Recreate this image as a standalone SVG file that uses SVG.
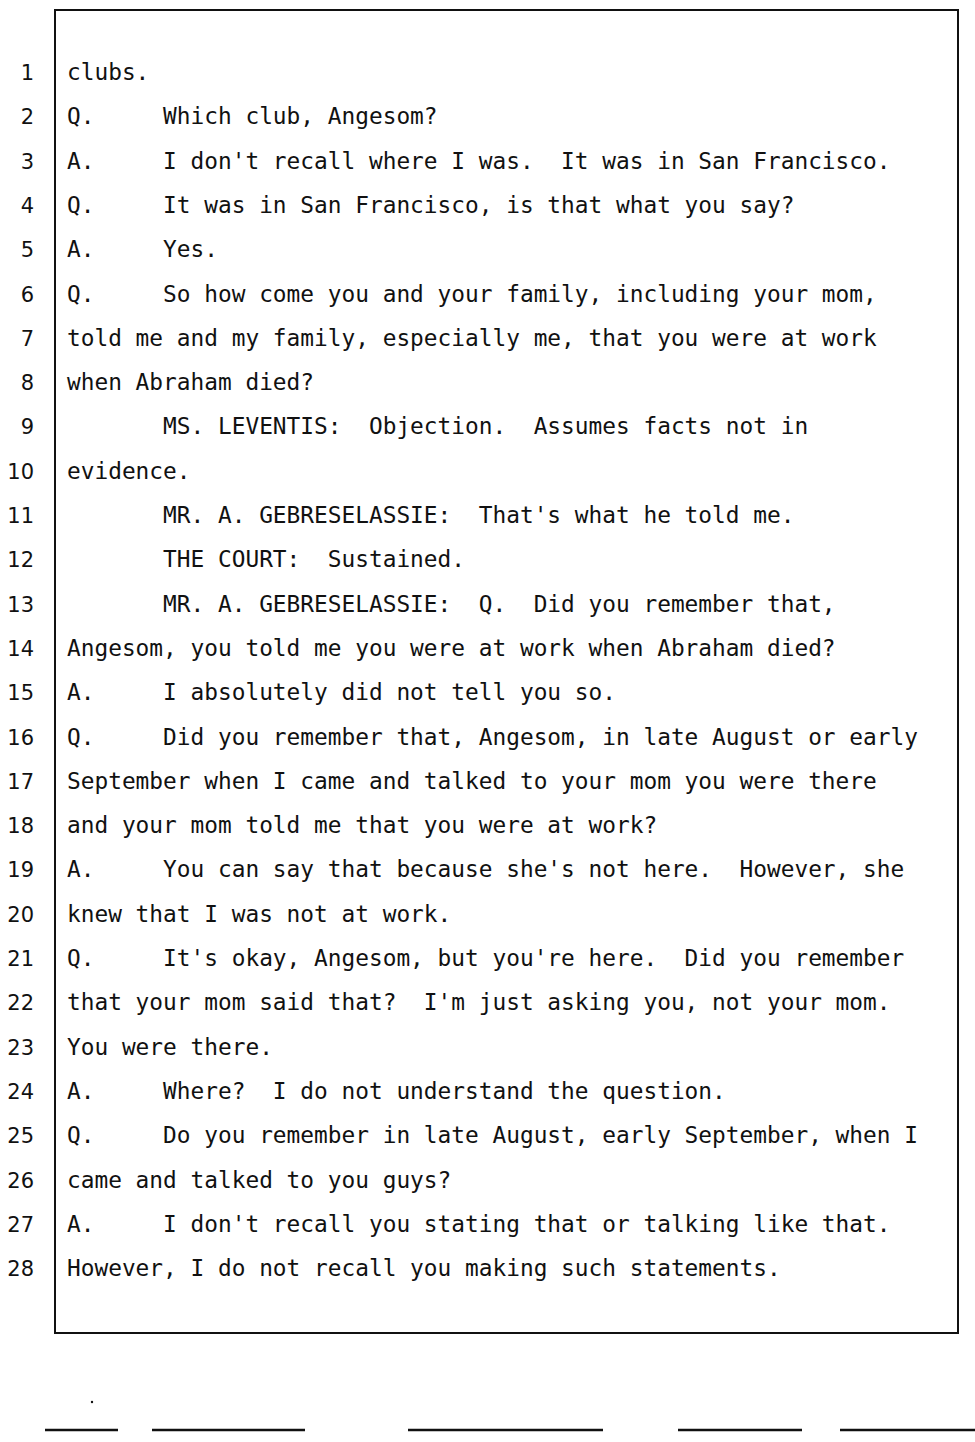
<svg xmlns="http://www.w3.org/2000/svg" width="975" height="1442" viewBox="0 0 975 1442">
<style>
.t{font-family:"DejaVu Sans Mono","Liberation Mono",monospace;font-size:22.8px;fill:#111;white-space:pre}
.n{font-family:"DejaVu Sans","Liberation Sans",sans-serif;font-size:21px;fill:#111;text-anchor:end}
.b{fill:none;stroke:#111;stroke-width:2}
.r{stroke:#111;stroke-width:2.5}
</style>
<rect width="975" height="1442" fill="#fff"/>
<g id="frame">
<rect class="b" x="55" y="10" width="903" height="1323"/>
</g>
<g id="line-numbers">
<text class="n" x="34" y="80">1</text>
<text class="n" x="34" y="124.3">2</text>
<text class="n" x="34" y="168.6">3</text>
<text class="n" x="34" y="212.9">4</text>
<text class="n" x="34" y="257.2">5</text>
<text class="n" x="34" y="301.5">6</text>
<text class="n" x="34" y="345.8">7</text>
<text class="n" x="34" y="390.1">8</text>
<text class="n" x="34" y="434.4">9</text>
<text class="n" x="34" y="478.7">10</text>
<text class="n" x="34" y="523">11</text>
<text class="n" x="34" y="567.3">12</text>
<text class="n" x="34" y="611.6">13</text>
<text class="n" x="34" y="655.9">14</text>
<text class="n" x="34" y="700.2">15</text>
<text class="n" x="34" y="744.5">16</text>
<text class="n" x="34" y="788.8">17</text>
<text class="n" x="34" y="833.1">18</text>
<text class="n" x="34" y="877.4">19</text>
<text class="n" x="34" y="921.7">20</text>
<text class="n" x="34" y="966">21</text>
<text class="n" x="34" y="1010.3">22</text>
<text class="n" x="34" y="1054.6">23</text>
<text class="n" x="34" y="1098.9">24</text>
<text class="n" x="34" y="1143.2">25</text>
<text class="n" x="34" y="1187.5">26</text>
<text class="n" x="34" y="1231.8">27</text>
<text class="n" x="34" y="1276.1">28</text>
</g>
<g id="transcript">
<text class="t" x="67" y="80" xml:space="preserve">clubs.</text>
<text class="t" x="67" y="124.3" xml:space="preserve">Q.     Which club, Angesom?</text>
<text class="t" x="67" y="168.6" xml:space="preserve">A.     I don't recall where I was.  It was in San Francisco.</text>
<text class="t" x="67" y="212.9" xml:space="preserve">Q.     It was in San Francisco, is that what you say?</text>
<text class="t" x="67" y="257.2" xml:space="preserve">A.     Yes.</text>
<text class="t" x="67" y="301.5" xml:space="preserve">Q.     So how come you and your family, including your mom,</text>
<text class="t" x="67" y="345.8" xml:space="preserve">told me and my family, especially me, that you were at work</text>
<text class="t" x="67" y="390.1" xml:space="preserve">when Abraham died?</text>
<text class="t" x="67" y="434.4" xml:space="preserve">       MS. LEVENTIS:  Objection.  Assumes facts not in</text>
<text class="t" x="67" y="478.7" xml:space="preserve">evidence.</text>
<text class="t" x="67" y="523" xml:space="preserve">       MR. A. GEBRESELASSIE:  That's what he told me.</text>
<text class="t" x="67" y="567.3" xml:space="preserve">       THE COURT:  Sustained.</text>
<text class="t" x="67" y="611.6" xml:space="preserve">       MR. A. GEBRESELASSIE:  Q.  Did you remember that,</text>
<text class="t" x="67" y="655.9" xml:space="preserve">Angesom, you told me you were at work when Abraham died?</text>
<text class="t" x="67" y="700.2" xml:space="preserve">A.     I absolutely did not tell you so.</text>
<text class="t" x="67" y="744.5" xml:space="preserve">Q.     Did you remember that, Angesom, in late August or early</text>
<text class="t" x="67" y="788.8" xml:space="preserve">September when I came and talked to your mom you were there</text>
<text class="t" x="67" y="833.1" xml:space="preserve">and your mom told me that you were at work?</text>
<text class="t" x="67" y="877.4" xml:space="preserve">A.     You can say that because she's not here.  However, she</text>
<text class="t" x="67" y="921.7" xml:space="preserve">knew that I was not at work.</text>
<text class="t" x="67" y="966" xml:space="preserve">Q.     It's okay, Angesom, but you're here.  Did you remember</text>
<text class="t" x="67" y="1010.3" xml:space="preserve">that your mom said that?  I'm just asking you, not your mom.</text>
<text class="t" x="67" y="1054.6" xml:space="preserve">You were there.</text>
<text class="t" x="67" y="1098.9" xml:space="preserve">A.     Where?  I do not understand the question.</text>
<text class="t" x="67" y="1143.2" xml:space="preserve">Q.     Do you remember in late August, early September, when I</text>
<text class="t" x="67" y="1187.5" xml:space="preserve">came and talked to you guys?</text>
<text class="t" x="67" y="1231.8" xml:space="preserve">A.     I don't recall you stating that or talking like that.</text>
<text class="t" x="67" y="1276.1" xml:space="preserve">However, I do not recall you making such statements.</text>
</g>
<g id="footer-rules">
<line class="r" x1="45" y1="1430" x2="118" y2="1430"/>
<line class="r" x1="152" y1="1430" x2="305" y2="1430"/>
<line class="r" x1="408" y1="1430" x2="603" y2="1430"/>
<line class="r" x1="678" y1="1430" x2="802" y2="1430"/>
<line class="r" x1="840" y1="1430" x2="975" y2="1430"/>
<circle cx="92" cy="1402" r="1.2" fill="#111"/>
</g>
</svg>
